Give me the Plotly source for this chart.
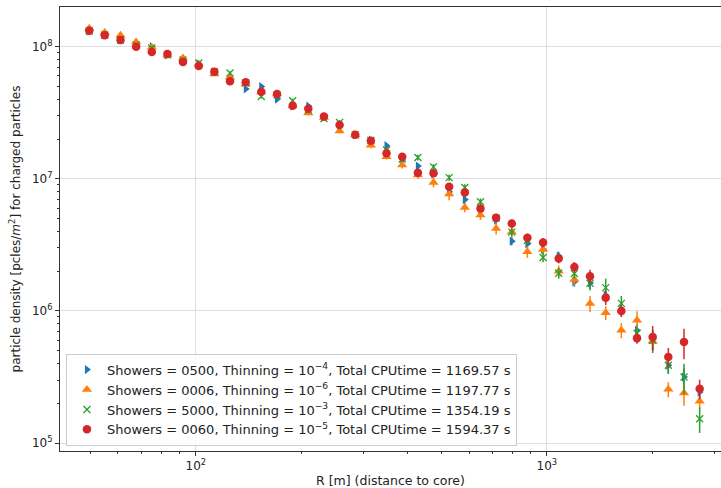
import plotly.graph_objects as go

# Bin centres (distance to core, m)
R = [49.7, 55.0, 61.0, 67.6, 74.9, 83.0, 91.9, 101.9, 112.9, 125.1,
     138.7, 153.6, 170.3, 188.7, 209.1, 231.7, 256.7, 284.5, 315.2, 349.3,
     387.1, 429.0, 475.3, 526.7, 583.7, 646.8, 716.7, 794.3, 880.0, 975.2,
     1080.7, 1197.6, 1327.2, 1470.8, 1629.8, 1806.1, 2001.4, 2217.9, 2457.9, 2723.8]

names = [
    "Showers = 0500, Thinning = 10<sup>\u22124</sup>, Total CPUtime = 1169.57 s",
    "Showers = 0006, Thinning = 10<sup>\u22126</sup>, Total CPUtime = 1197.77 s",
    "Showers = 5000, Thinning = 10<sup>\u22123</sup>, Total CPUtime = 1354.19 s",
    "Showers = 0060, Thinning = 10<sup>\u22125</sup>, Total CPUtime = 1594.37 s",
]

blue_y = [1.315e8, 1.226e8, 1.124e8, 1.048e8, 1.00e8, 8.65e7, 7.66e7, 7.39e7, 6.43e7, 5.59e7,
          4.78e7, 4.99e7, 4.00e7, 3.55e7, 3.55e7, 2.93e7, 2.55e7, 2.15e7, 1.965e7, 1.78e7,
          1.386e7, 1.248e7, 1.085e7, 7.97e6, 6.96e6, 5.74e6, 4.87e6, 3.37e6, 3.23e6, 2.92e6,
          2.60e6, 1.66e6, 1.63e6, 1.315e6, 1.03e6, 7.14e5, 6.07e5, 3.88e5, 3.16e5, 2.43e5]
orange_y = [1.378e8, 1.277e8, 1.22e8, 1.085e8, 9.90e7, 8.65e7, 8.21e7, 7.39e7, 6.21e7, 5.87e7,
            5.22e7, 4.54e7, 4.38e7, 3.55e7, 3.15e7, 2.91e7, 2.30e7, 2.14e7, 1.79e7, 1.47e7,
            1.27e7, 1.07e7, 9.36e6, 7.66e6, 6.07e6, 5.31e6, 4.20e6, 3.95e6, 2.80e6, 2.92e6,
            2.00e6, 1.73e6, 1.14e6, 9.69e5, 7.14e5, 8.50e5, 5.90e5, 2.55e5, 2.39e5, 2.07e5]
green_y = [1.315e8, 1.226e8, 1.124e8, 1.03e8, 9.78e7, 8.65e7, 7.93e7, 7.52e7, 6.43e7, 6.32e7,
           5.31e7, 4.20e7, 4.31e7, 3.90e7, 3.32e7, 2.86e7, 2.67e7, 2.15e7, 1.95e7, 1.65e7,
           1.41e7, 1.45e7, 1.23e7, 1.02e7, 8.58e6, 6.70e6, 5.04e6, 3.95e6, 3.43e6, 2.54e6,
           1.93e6, 1.92e6, 1.62e6, 1.50e6, 1.14e6, 6.78e5, 6.00e5, 3.88e5, 3.16e5, 1.53e5]
red_y = [1.32e8, 1.22e8, 1.124e8, 1.00e8, 9.11e7, 8.80e7, 7.66e7, 7.14e7, 6.47e7, 5.47e7,
         5.38e7, 4.56e7, 4.38e7, 3.57e7, 3.39e7, 2.96e7, 2.55e7, 2.15e7, 1.94e7, 1.56e7,
         1.47e7, 1.11e7, 1.10e7, 8.70e6, 7.86e6, 5.97e6, 5.08e6, 4.59e6, 3.58e6, 3.30e6,
         2.49e6, 2.15e6, 1.83e6, 1.26e6, 1.00e6, 6.21e5, 6.35e5, 4.48e5, 5.82e5, 2.58e5]

# relative errors
blue_err = [0.03, 0.03, 0.03, 0.03, 0.03, 0.03, 0.03, 0.03, 0.03, 0.03,
            0.035, 0.035, 0.035, 0.035, 0.04, 0.04, 0.04, 0.04, 0.045, 0.045,
            0.05, 0.05, 0.05, 0.055, 0.06, 0.06, 0.065, 0.07, 0.07, 0.08,
            0.08, 0.08, 0.10, 0.12, 0.12, 0.12, 0.17, 0.14, 0.16, 0.10]
orange_err = [0.03, 0.03, 0.03, 0.03, 0.03, 0.03, 0.03, 0.03, 0.03, 0.03,
              0.035, 0.035, 0.035, 0.035, 0.04, 0.04, 0.04, 0.045, 0.05, 0.05,
              0.06, 0.07, 0.08, 0.10, 0.08, 0.08, 0.10, 0.09, 0.10, 0.09,
              0.10, 0.10, 0.14, 0.12, 0.13, 0.17, 0.15, 0.13, 0.20, 0.14]
green_err = [0.03, 0.03, 0.03, 0.03, 0.03, 0.03, 0.03, 0.03, 0.03, 0.03,
             0.035, 0.035, 0.035, 0.035, 0.04, 0.04, 0.04, 0.04, 0.045, 0.045,
             0.05, 0.05, 0.05, 0.055, 0.06, 0.06, 0.065, 0.07, 0.07, 0.08,
             0.09, 0.09, 0.12, 0.17, 0.14, 0.12, 0.20, 0.14, 0.26, 0.22]
red_err = [0.03, 0.03, 0.03, 0.03, 0.03, 0.03, 0.03, 0.03, 0.03, 0.03,
           0.035, 0.035, 0.035, 0.035, 0.04, 0.04, 0.04, 0.04, 0.045, 0.045,
           0.05, 0.05, 0.05, 0.055, 0.06, 0.06, 0.065, 0.07, 0.07, 0.08,
           0.08, 0.09, 0.12, 0.12, 0.10, 0.09, 0.21, 0.17, 0.26, 0.17]

colors = ["#1f77b4", "#ff7f0e", "#2ca02c", "#d62728"]
symbols = ["triangle-right", "triangle-up", "x-thin-open", "circle"]
sizes = [8, 9, 7, 8.5]
series_y = [blue_y, orange_y, green_y, red_y]
series_err = [blue_err, orange_err, green_err, red_err]

x_tickvals = [100, 1000]
x_ticktext = ["10<sup>2</sup>", "10<sup>3</sup>"]
y_tickvals = [1e5, 1e6, 1e7, 1e8]
y_ticktext = ["10<sup>5</sup>", "10<sup>6</sup>", "10<sup>7</sup>", "10<sup>8</sup>"]
x_minor = [50, 60, 70, 80, 90, 200, 300, 400, 500, 600, 700, 800, 900, 2000, 3000]
y_minor = [m * 10 ** e for e in range(5, 9) for m in range(2, 10)]

fig = go.Figure()
for k, (name, ys, errs, c, s, sz) in enumerate(zip(names, series_y, series_err, colors, symbols, sizes)):
    marker = dict(color=c, size=sz, symbol=s)
    if s == "x-thin-open":
        marker["line"] = dict(color=c, width=1.3)
    else:
        marker["line"] = dict(width=0)
    fig.add_trace(go.Scatter(
        x=R, y=ys, mode="markers", name=name, marker=marker, legendgroup=f"g{k}",
        error_y=dict(type="data", array=[v * e for v, e in zip(ys, errs)],
                     color=c, thickness=1.5, width=0),
    ))

axis_common = dict(
    type="log", showline=True, linecolor="#333333", linewidth=1,
    showgrid=True, gridcolor="#dedede", gridwidth=1,
    ticks="outside", ticklen=4, tickcolor="#333333", tickwidth=1,
    tickfont=dict(family="DejaVu Sans", size=12, color="#222222"),
    zeroline=False,
)

fig.update_layout(
    width=721, height=488,
    margin=dict(l=60, r=0, t=7, b=37),
    paper_bgcolor="white", plot_bgcolor="white",
    font=dict(family="DejaVu Sans", size=12, color="#222222"),
    showlegend=True,
    legend=dict(x=0.009, y=0.012, xanchor="left", yanchor="bottom",
                bgcolor="rgba(255,255,255,0.85)", bordercolor="#cccccc", borderwidth=1,
                font=dict(family="DejaVu Sans", size=13, color="#222222"),
                itemsizing="trace", tracegroupgap=2, traceorder="normal"),
    xaxis=dict(axis_common, range=[1.613, 3.496], mirror=True,
               tickmode="array", tickvals=x_tickvals, ticktext=x_ticktext,
               minor=dict(tickmode="array", tickvals=x_minor, ticks="outside", ticklen=2,
                          tickcolor="#333333", showgrid=False),
               title=dict(text="R [m] (distance to core)", standoff=6,
                          font=dict(family="DejaVu Sans", size=12.5))),
    yaxis=dict(axis_common, range=[4.94, 8.30],
               tickmode="array", tickvals=y_tickvals, ticktext=y_ticktext,
               minor=dict(tickmode="array", tickvals=y_minor, ticks="outside", ticklen=2,
                          tickcolor="#333333", showgrid=False),
               title=dict(text="particle density [pcles/<i>m</i><sup>2</sup>] for charged particles",
                          standoff=8, font=dict(family="DejaVu Sans", size=12))),
)

fig.write_html("out.html")
